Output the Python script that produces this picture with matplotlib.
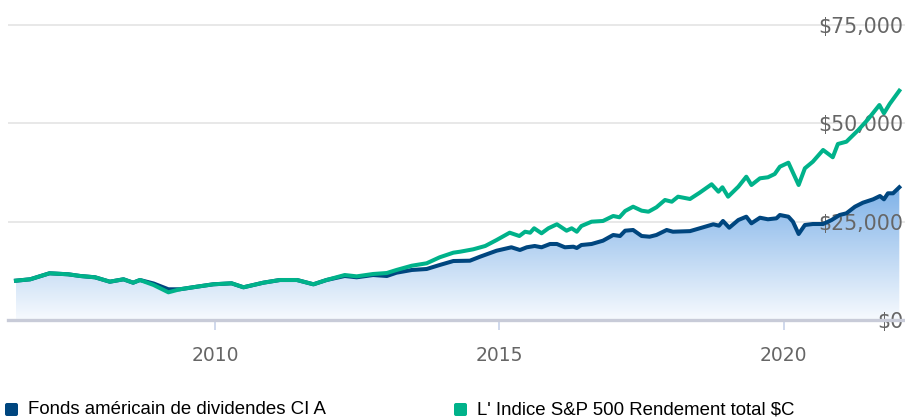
import numpy as np
import matplotlib.pyplot as plt
import matplotlib.transforms as mtransforms
from matplotlib.colors import LinearSegmentedColormap
from matplotlib.patches import FancyBboxPatch

# values (growth of $10,000)
fund_years = [2006.50, 2006.75, 2007.09, 2007.42, 2007.63, 2007.89, 2008.15, 2008.39, 2008.56, 2008.68,
              2008.92, 2009.18, 2009.38, 2009.68, 2009.97, 2010.29, 2010.50, 2010.85, 2011.14, 2011.44,
              2011.73, 2011.96, 2012.28, 2012.49, 2012.78, 2013.02, 2013.19, 2013.46, 2013.72, 2013.95,
              2014.19, 2014.48, 2014.66, 2014.95, 2015.21, 2015.36, 2015.48, 2015.62, 2015.74, 2015.89,
              2016.01, 2016.15, 2016.30, 2016.36, 2016.44, 2016.62, 2016.82, 2017.00, 2017.12, 2017.21,
              2017.35, 2017.50, 2017.64, 2017.76, 2017.94, 2018.05, 2018.35, 2018.58, 2018.76, 2018.86,
              2018.93, 2019.04, 2019.20, 2019.34, 2019.43, 2019.58, 2019.72, 2019.87, 2019.93, 2020.08,
              2020.16, 2020.26, 2020.37, 2020.51, 2020.69, 2020.84, 2020.98, 2021.10, 2021.25, 2021.39,
              2021.57, 2021.69, 2021.76, 2021.83, 2021.92, 2022.03]
fund_values = [10000, 10350, 11880, 11620, 11190, 10860, 9740, 10350, 9490, 10170,
               9280, 7810, 7810, 8470, 9080, 9330, 8320, 9490, 10170, 10170,
               9080, 10170, 11190, 10860, 11440, 11190, 12030, 12720, 12970, 13990,
               15000, 15080, 16100, 17620, 18490, 17800, 18490, 18820, 18490, 19330,
               19330, 18490, 18640, 18310, 19070, 19330, 20170, 21620, 21360, 22710,
               22890, 21360, 21180, 21620, 22890, 22450, 22600, 23570, 24340, 23980,
               25180, 23470, 25430, 26270, 24590, 26010, 25610, 25860, 26700, 26270,
               25000, 21870, 24160, 24410, 24410, 25430, 26700, 27130, 28810, 29830,
               30690, 31530, 30690, 32220, 32220, 33750]

index_years = [2006.50, 2006.75, 2007.09, 2007.42, 2007.63, 2007.89, 2008.15, 2008.39, 2008.56, 2008.68,
               2008.92, 2009.18, 2009.38, 2009.68, 2009.97, 2010.29, 2010.50, 2010.85, 2011.14, 2011.44,
               2011.73, 2011.96, 2012.28, 2012.49, 2012.78, 2013.02, 2013.19, 2013.46, 2013.72, 2013.95,
               2014.19, 2014.31, 2014.54, 2014.75, 2014.95, 2015.18, 2015.35, 2015.45, 2015.54, 2015.61,
               2015.74, 2015.86, 2016.01, 2016.18, 2016.27, 2016.36, 2016.44, 2016.62, 2016.82, 2017.00,
               2017.11, 2017.21, 2017.35, 2017.50, 2017.62, 2017.76, 2017.91, 2018.03, 2018.14, 2018.35,
               2018.52, 2018.73, 2018.85, 2018.92, 2019.02, 2019.20, 2019.34, 2019.43, 2019.58, 2019.72,
               2019.84, 2019.93, 2020.08, 2020.26, 2020.37, 2020.51, 2020.69, 2020.86, 2020.95, 2021.10,
               2021.31, 2021.48, 2021.68, 2021.76, 2021.86, 2022.03]
index_values = [10000, 10350, 11880, 11620, 11190, 10860, 9740, 10350, 9490, 10170,
                8900, 7040, 7810, 8470, 9080, 9330, 8320, 9490, 10170, 10170,
                9080, 10170, 11440, 11100, 11700, 11950, 12720, 13810, 14420, 15950,
                17120, 17370, 17980, 18820, 20340, 22200, 21360, 22450, 22200, 23320,
                22050, 23320, 24340, 22710, 23320, 22450, 23900, 25000, 25180, 26450,
                26120, 27720, 28810, 27800, 27540, 28660, 30520, 30080, 31360, 30770,
                32370, 34510, 32630, 33750, 31360, 33900, 36440, 34330, 36030, 36290,
                37130, 38980, 40000, 34330, 38580, 40260, 43230, 41380, 44760, 45340,
                48320, 51040, 54670, 52560, 54930, 58310]

series_names = ["Fonds américain de dividendes CI A", "L' Indice S&P 500 Rendement total $C"]
series_colors = ["#00467f", "#00b28a"]
y_ticks = [0, 25000, 50000, 75000]
y_labels = ["$0", "$25,000", "$50,000", "$75,000"]
x_ticks = [2010, 2015, 2020]

fig = plt.figure(figsize=(9.05, 4.2), dpi=100)
ax = fig.add_axes([8 / 905, 100 / 420, 897 / 905, 310 / 420])

for s in ax.spines.values():
    s.set_visible(False)

# grid
for v in y_ticks[1:]:
    ax.axhline(v, color="#e6e6e6", lw=1.3, zorder=0)
ax.axhline(0, color="#c8cbd8", lw=2.4, zorder=5, clip_on=False)

# gradient area under the fund line
poly = ax.fill_between(fund_years, fund_values, 0, color="none", lw=0)
cmap = LinearSegmentedColormap.from_list("area", ["#f7fafe", "#7fb2e8"])
grad = np.linspace(0, 1, 256).reshape(-1, 1)
img = ax.imshow(grad, cmap=cmap, aspect="auto", origin="lower",
                extent=[fund_years[0], fund_years[-1], 0, max(fund_values)], zorder=1)
img.set_clip_path(poly.get_paths()[0], transform=ax.transData)
ax.set_xlim(2006.36, 2022.13)
ax.set_ylim(0, 78830)

ax.plot(fund_years, fund_values, color=series_colors[0], lw=2.9, zorder=3,
        solid_joinstyle="round")
ax.plot(index_years, index_values, color=series_colors[1], lw=2.9, zorder=4,
        solid_joinstyle="round")

# axes ticks
ax.set_xticks(x_ticks)
ax.set_xticklabels([str(t) for t in x_ticks])
ax.tick_params(axis="x", length=7, width=1.3, color="#ccd6eb", pad=12,
               labelsize=13.5, labelcolor="#666666")

ax.yaxis.tick_right()
ax.set_yticks(y_ticks)
ax.set_yticklabels(y_labels)
ax.tick_params(axis="y", length=0, pad=-1, labelsize=14.8, labelcolor="#666666")
for lab in ax.get_yticklabels():
    lab.set_horizontalalignment("right")

# legend at the bottom
px = mtransforms.IdentityTransform()
for x0, name, col in [(5, series_names[0], series_colors[0]), (454, series_names[1], series_colors[1])]:
    fig.add_artist(FancyBboxPatch((x0, 4), 13, 13, boxstyle="round,pad=0,rounding_size=2",
                                  facecolor=col, edgecolor="none", transform=px))
    fig.text((x0 + 23) / 905, 10.5 / 420, name, fontsize=13.4, family="Liberation Sans",
             color="#000000", va="center", ha="left")

fig.savefig("out.png", dpi=100)
